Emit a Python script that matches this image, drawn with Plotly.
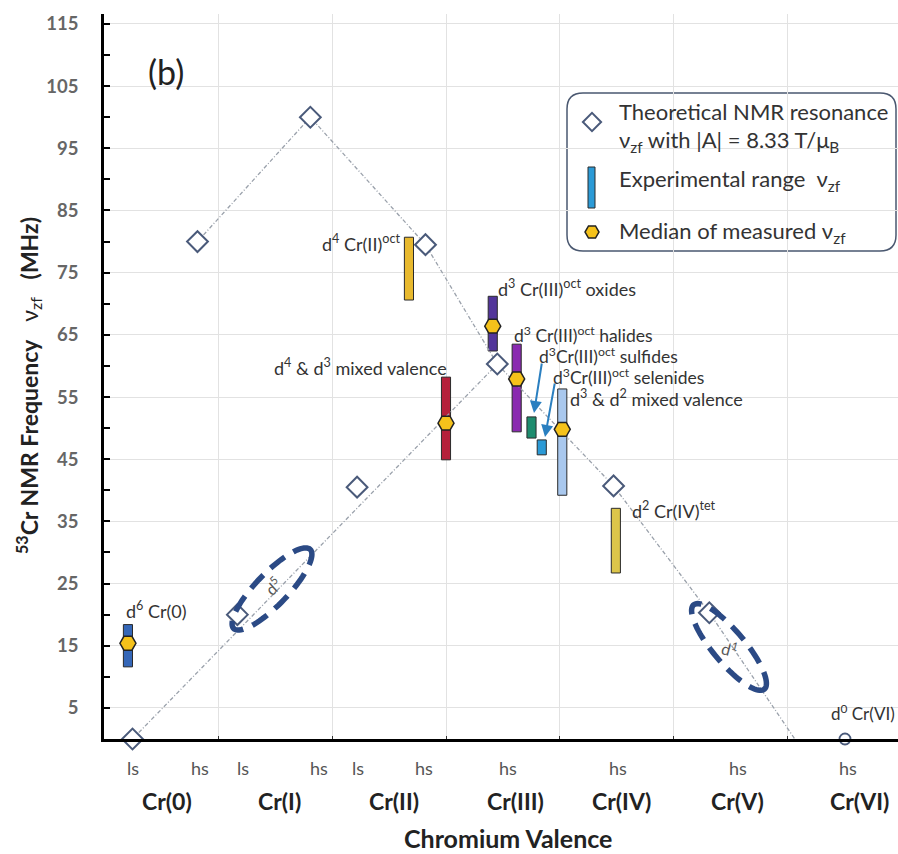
import numpy as np
import plotly.graph_objects as go

# ---------------- data ----------------
spin_labels = ["ls", "hs", "ls", "hs", "ls", "hs", "hs", "hs", "hs", "hs"]
spin_pos = [0.25, 0.84, 1.22, 1.89, 2.23, 2.81, 3.54, 4.51, 5.56, 6.53]
valence_labels = ["Cr(0)", "Cr(I)", "Cr(II)", "Cr(III)", "Cr(IV)", "Cr(V)", "Cr(VI)"]
valence_pos = [0.55, 1.54, 2.54, 3.61, 4.54, 5.56, 6.63]

theory_x = [0.25, 0.82, 1.17, 1.81, 2.22, 2.82, 3.45, 4.47, 5.31]
theory_y = [0, 80, 20, 100, 40.5, 79.5, 60.3, 40.7, 20.3]
d0_x = [6.5]
d0_y = [0]
hs_line_x = [0.82, 1.81, 2.82, 3.45, 4.47, 5.31, 6.06]
hs_line_y = [80, 100, 79.5, 60.3, 40.7, 20.3, 0]
ls_line_x = [0.25, 3.45]
ls_line_y = [0, 60.3]

exp_names = ["d6 Cr(0)", "d4 Cr(II)oct", "d4 & d3 mixed valence", "d3 Cr(III)oct oxides",
             "d3 Cr(III)oct halides", "d3 Cr(III)oct sulfides", "d3 Cr(III)oct selenides",
             "d3 & d2 mixed valence", "d2 Cr(IV)tet"]
exp_x = [0.21, 2.675, 3.0, 3.41, 3.62, 3.75, 3.84, 4.02, 4.49]
exp_low = [11.6, 70.6, 44.9, 62.4, 49.4, 48.4, 45.7, 39.2, 26.7]
exp_high = [18.4, 80.7, 58.2, 71.2, 63.5, 51.8, 48.1, 56.3, 37.1]
exp_colors = ["#3567b8", "#e8b92e", "#b5203b", "#52359a", "#8a2ab0",
              "#1e8c6e", "#2b9ad6", "#a9c8ee", "#dcc54a"]
median_x = [0.21, 3.0, 3.41, 3.62, 4.02]
median_y = [15.4, 50.8, 66.4, 57.9, 49.8]

# ---------------- geometry helpers ----------------
W, H = 898, 854
L, R, T, B = 104, 0, 14, 115
XR = [0, 6.965]
YR = [0, 116.6]
pw, ph = W - L - R, H - T - B
sx = pw / (XR[1] - XR[0])
sy = ph / (YR[1] - YR[0])


def px2x(px):
    return XR[0] + (px - L) / sx


def py2y(py):
    return YR[0] + (H - B - py) / sy


def pxp(px):
    return (px - L) / pw


def pyp(py):
    return (H - B - py) / ph


FONT = "Lato, 'Open Sans', sans-serif"
TXT = "#333333"

fig = go.Figure()

# experimental ranges (bars)
fig.add_trace(go.Bar(
    x=exp_x, y=[h - l for h, l in zip(exp_high, exp_low)], base=exp_low,
    width=[0.08] * len(exp_x),
    marker=dict(color=exp_colors, line=dict(color="#2a2a2a", width=1)),
    showlegend=False, hoverinfo="skip"))

# theoretical lines
for lx, ly in [(hs_line_x, hs_line_y), (ls_line_x, ls_line_y)]:
    fig.add_trace(go.Scatter(x=lx, y=ly, mode="lines",
                             line=dict(color="#9aa1ab", width=1.3, dash="4px,2px,1px,2px"),
                             showlegend=False, hoverinfo="skip", cliponaxis=False))

# theoretical points
fig.add_trace(go.Scatter(x=theory_x, y=theory_y, mode="markers",
                         marker=dict(symbol="diamond", size=16, color="white",
                                     line=dict(color="#4a5a7a", width=2)),
                         showlegend=False, cliponaxis=False))
fig.add_trace(go.Scatter(x=d0_x, y=d0_y, mode="markers",
                         marker=dict(symbol="circle", size=11, color="white",
                                     line=dict(color="#4a5a7a", width=1.8)),
                         showlegend=False, cliponaxis=False))

# medians
fig.add_trace(go.Scatter(x=median_x, y=median_y, mode="markers",
                         marker=dict(symbol="hexagon2", size=16, color="#f5c21b",
                                     line=dict(color="#222222", width=1.5)),
                         showlegend=False, cliponaxis=False))

# legend markers
fig.add_trace(go.Scatter(x=[px2x(592)], y=[py2y(122)], mode="markers",
                         marker=dict(symbol="diamond", size=14, color="white",
                                     line=dict(color="#4a5a7a", width=2)),
                         showlegend=False, cliponaxis=False))
fig.add_trace(go.Scatter(x=[px2x(592)], y=[py2y(232)], mode="markers",
                         marker=dict(symbol="hexagon2", size=14, color="#f5c21b",
                                     line=dict(color="#222222", width=1.5)),
                         showlegend=False, cliponaxis=False))

shapes = []
# legend rounded box
x0, x1, y0, y1 = pxp(567), pxp(896), pyp(251), pyp(93)
rx, ry = 16 / pw, 16 / ph
path = (f"M {x0+rx},{y1} L {x1-rx},{y1} Q {x1},{y1} {x1},{y1-ry} "
        f"L {x1},{y0+ry} Q {x1},{y0} {x1-rx},{y0} L {x0+rx},{y0} "
        f"Q {x0},{y0} {x0},{y0+ry} L {x0},{y1-ry} Q {x0},{y1} {x0+rx},{y1} Z")
shapes.append(dict(type="path", path=path, xref="paper", yref="paper", layer="below",
                   line=dict(color="#4a5870", width=1.5), fillcolor="rgba(255,255,255,0.6)"))
shapes.append(dict(type="rect", xref="paper", yref="paper",
                   x0=pxp(588), x1=pxp(595), y0=pyp(208), y1=pyp(167),
                   fillcolor="#2b9ad6", line=dict(color="#2a2a2a", width=1)))


def ellipse_path(cx, cy, a, b, ang, n=90):
    t = np.linspace(0, 2 * np.pi, n)
    th = np.radians(ang)
    ex = a * np.cos(t) * np.cos(th) - b * np.sin(t) * np.sin(th)
    ey = a * np.cos(t) * np.sin(th) + b * np.sin(t) * np.cos(th)
    pts = [(px2x(cx + dx), py2y(cy - dy)) for dx, dy in zip(ex, ey)]
    return "M " + " L ".join(f"{x:.4f},{y:.4f}" for x, y in pts) + " Z"


for (cx, cy, a, b, ang) in [(272, 589, 55, 16, 46), (729, 647, 55, 16, -50)]:
    shapes.append(dict(type="path", path=ellipse_path(cx, cy, a, b, ang),
                       xref="x", yref="y",
                       line=dict(color="#2b4a85", width=5.5, dash="18px,10px")))

ann = []


def text(px, py, s, size=18, anchor="left", color=TXT, angle=0, yanchor="middle"):
    ann.append(dict(x=pxp(px), y=pyp(py), xref="paper", yref="paper", text=s,
                    showarrow=False, xanchor=anchor, yanchor=yanchor, textangle=angle,
                    font=dict(family=FONT, size=size, color=color)))


# spin & valence labels
for p, s in zip(spin_pos, spin_labels):
    ann.append(dict(x=p, y=pyp(768), xref="x", yref="paper", text=s, showarrow=False,
                    xanchor="center", yanchor="middle",
                    font=dict(family=FONT, size=18, color="#555555")))
for p, s in zip(valence_pos, valence_labels):
    ann.append(dict(x=p, y=pyp(801), xref="x", yref="paper", text=f"<b>{s}</b>",
                    showarrow=False, xanchor="center", yanchor="middle",
                    font=dict(family=FONT, size=23, color="#222222")))
text(508, 838, "<b>Chromium Valence</b>", size=25, anchor="center", color="#222222")

# y-axis title
nb = "\u00a0"
text(28, 386, f"<b><sup>53</sup>Cr NMR Frequency</b>{nb*3}ν<sub>zf</sub>{nb*3}<b>(MHz)</b>",
     size=23, anchor="center", color="#222222", angle=-90)

# panel label
text(146, 72, "(b)", size=34, color="#222222")

# data labels
text(124, 610, "d<sup>6</sup> Cr(0)")
text(402, 243, "d<sup>4</sup> Cr(II)<sup>oct</sup>", anchor="right")
text(272, 367, "d<sup>4</sup> &amp; d<sup>3</sup> mixed valence")
text(496, 288, "d<sup>3</sup> Cr(III)<sup>oct</sup> oxides")
text(512, 334, "d<sup>3</sup> Cr(III)<sup>oct</sup> halides", size=17.5)
text(537, 355, "d<sup>3</sup>Cr(III)<sup>oct</sup> sulfides", size=17.5)
text(551, 376, "d<sup>3</sup>Cr(III)<sup>oct</sup> selenides", size=17.5)
text(568, 398, "d<sup>3</sup> &amp; d<sup>2</sup> mixed valence")
text(630, 510, "d<sup>2</sup> Cr(IV)<sup>tet</sup>")
text(829, 712, "d<sup>0</sup> Cr(VI)", size=17)
text(272, 586, "d<sup>5</sup>", size=16, color="#555555", anchor="center", angle=-42)
text(729, 648, "d<sup>1</sup>", size=16, color="#555555", anchor="center", angle=15)

# legend texts
text(617, 112, "Theoretical NMR resonance", size=22)
text(617, 141, "ν<sub>zf</sub> with |A| = 8.33 T/μ<sub>B</sub>", size=22)
text(617, 180, "Experimental range  ν<sub>zf</sub>", size=22)
text(617, 232, "Median of measured ν<sub>zf</sub>", size=22)

# arrows
for (tx, ty, hx, hy) in [(542, 362, 534, 413), (555, 382, 545, 437)]:
    ann.append(dict(x=px2x(hx), y=py2y(hy), xref="x", yref="y",
                    ax=tx - hx, ay=ty - hy, axref="pixel", ayref="pixel",
                    showarrow=True, arrowhead=2, arrowsize=1.2, arrowwidth=2,
                    arrowcolor="#2a7fc0", text=""))

fig.update_layout(
    width=W, height=H,
    margin=dict(l=L, r=R, t=T, b=B, pad=0),
    paper_bgcolor="white", plot_bgcolor="white",
    barmode="overlay", showlegend=False,
    shapes=shapes, annotations=ann,
    font=dict(family=FONT),
    xaxis=dict(range=XR, tickvals=[1, 2, 3, 4, 5, 6], showticklabels=False,
               showgrid=True, gridcolor="#e2e2e2", gridwidth=1,
               ticks="inside", ticklen=3, tickcolor="#333",
               showline=True, linecolor="black", linewidth=2.5, zeroline=False,
               fixedrange=True),
    yaxis=dict(range=YR, tickvals=list(range(5, 116, 10)),
               showgrid=True, gridcolor="#e2e2e2", gridwidth=1,
               ticks="inside", ticklen=6, tickcolor="black", tickwidth=2,
               minor=dict(ticks="inside", ticklen=6, tickcolor="black", tickwidth=2,
                          tick0=0, dtick=10, showgrid=False),
               tickfont=dict(family=FONT, size=18.5, color="#666666", weight="bold"),
               ticklabelstandoff=19,
               showline=True, linecolor="black", linewidth=2.5, zeroline=False,
               fixedrange=True),
)

fig.write_html("out.html")
